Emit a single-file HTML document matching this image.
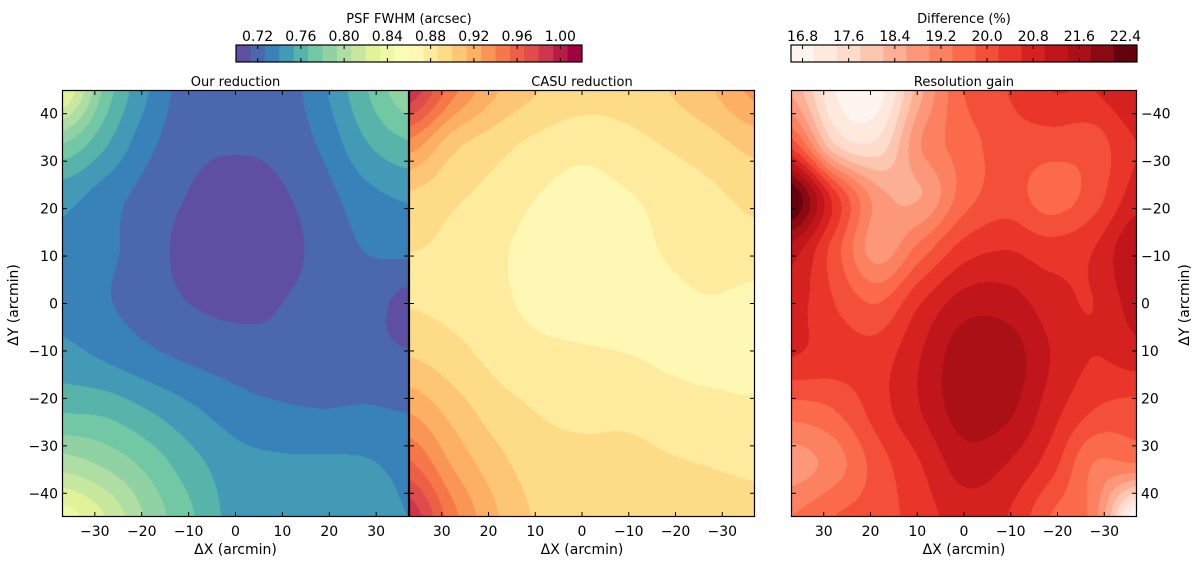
<!DOCTYPE html>
<html><head><meta charset="utf-8"><style>
html,body{margin:0;padding:0;background:#fff;width:1200px;height:565px;overflow:hidden;font-family:"DejaVu Sans","Liberation Sans",sans-serif;}
canvas{position:absolute;}
svg{position:absolute;left:0;top:0;}
</style></head><body>
<canvas id="c1" width="347" height="427" style="left:62px;top:90px"></canvas>
<canvas id="c2" width="346" height="427" style="left:409px;top:90px"></canvas>
<canvas id="c3" width="346" height="427" style="left:791px;top:90px"></canvas>
<svg id="ov" width="1200" height="565"></svg>
<script>
// grid rows: data y = 45 .. -45 (top to bottom), columns in display order (left to right)
const ourGrid = [
[0.835,0.775,0.74,0.718,0.716,0.718,0.737,0.765,0.79],
[0.78,0.755,0.73,0.717,0.715,0.717,0.729,0.752,0.765],
[0.745,0.733,0.721,0.712,0.705,0.711,0.721,0.735,0.742],
[0.738,0.73,0.719,0.708,0.703,0.707,0.718,0.727,0.73],
[0.735,0.728,0.72,0.713,0.710,0.713,0.718,0.72,0.708],
[0.745,0.738,0.73,0.724,0.72,0.716,0.716,0.717,0.715],
[0.765,0.763,0.753,0.742,0.733,0.729,0.727,0.728,0.726],
[0.80,0.79,0.775,0.758,0.745,0.742,0.742,0.741,0.737],
[0.84,0.82,0.79,0.768,0.748,0.745,0.745,0.743,0.740]];
const casuGrid = [
[0.99,0.945,0.915,0.90,0.893,0.893,0.90,0.912,0.93],
[0.935,0.905,0.892,0.883,0.878,0.882,0.888,0.895,0.905],
[0.897,0.889,0.882,0.873,0.868,0.872,0.878,0.884,0.89],
[0.887,0.884,0.876,0.868,0.865,0.868,0.875,0.882,0.882],
[0.886,0.883,0.877,0.869,0.865,0.865,0.869,0.872,0.868],
[0.90,0.892,0.883,0.878,0.876,0.874,0.871,0.868,0.866],
[0.925,0.908,0.893,0.886,0.883,0.883,0.88,0.878,0.876],
[0.955,0.925,0.905,0.893,0.891,0.891,0.888,0.886,0.884],
[0.99,0.945,0.915,0.898,0.895,0.893,0.893,0.893,0.891]];
const gainGrid = [
[18.5,17.0,16.8,18.5,19.8,20.2,20.6,20.6,21.0],
[20.0,17.8,17.5,19.0,19.6,20.0,20.0,20.0,20.6],
[22.6,20.4,18.8,18.6,19.6,20.0,19.6,20.0,20.8],
[21.2,20.0,18.8,19.6,20.4,20.6,20.4,20.6,21.4],
[20.8,20.2,19.8,20.6,21.2,21.2,20.8,20.6,21.2],
[20.6,20.4,20.4,21.0,21.65,21.65,21.0,20.6,20.8],
[19.6,19.8,20.4,21.0,21.6,21.5,20.8,20.2,20.0],
[18.8,19.2,20.0,20.6,21.2,21.0,20.4,19.4,19.4],
[19.4,19.8,20.0,20.4,20.8,20.6,19.8,19.2,16.6]];
const fwhmTicks = [0.72,0.76,0.80,0.84,0.88,0.92,0.96,1.00];
const diffTicks = [16.8,17.6,18.4,19.2,20.0,20.8,21.6,22.4];
const xTicks = [-30,-20,-10,0,10,20,30];
const yTicks = [-40,-30,-20,-10,0,10,20,30,40];
const fwhmRange = [0.70,1.02], fwhmBands = 24;
const diffRange = [16.6,22.6], diffBands = 15;

const spectralR = ['#5e4fa2','#3288bd','#66c2a5','#abdda4','#e6f598','#ffffbf','#fee08b','#fdae61','#f46d43','#d53e4f','#9e0142'];
const reds = ['#fff5f0','#fee0d2','#fcbba1','#fc9272','#fb6a4a','#ef3b2c','#cb181d','#a50f15','#67000d'];
function hex(h){return [parseInt(h.slice(1,3),16),parseInt(h.slice(3,5),16),parseInt(h.slice(5,7),16)];}
function cmap(anchors,t){t=Math.max(0,Math.min(1,t));const n=anchors.length-1;const i=Math.min(n-1,Math.floor(t*n));const f=t*n-i;const a=hex(anchors[i]),b=hex(anchors[i+1]);return [0,1,2].map(k=>Math.round(a[k]+(b[k]-a[k])*f));}
function bandColor(anchors,k,N){return cmap(anchors,k/(N-1));}
function cr(p0,p1,p2,p3,t){return p1+0.5*t*(p2-p0+t*(2*p0-5*p1+4*p2-p3+t*(3*(p1-p2)+p3-p0)));}
function sample(g,u,v){const R=g.length-1,C=g[0].length-1;const x=u*C,y=v*R;const i=Math.min(C-1,Math.floor(x)),j=Math.min(R-1,Math.floor(y));const fx=x-i,fy=y-j;
 const gv=(r,c)=>g[Math.max(0,Math.min(R,r))][Math.max(0,Math.min(C,c))];
 const rows=[];for(let r=-1;r<=2;r++){rows.push(cr(gv(j+r,i-1),gv(j+r,i),gv(j+r,i+1),gv(j+r,i+2),fx));}
 return cr(rows[0],rows[1],rows[2],rows[3],fy);}
function draw(id,g,anchors,range,N){const c=document.getElementById(id),ctx=c.getContext('2d');const W=c.width,H=c.height;const im=ctx.createImageData(W,H);
 const cols=[];for(let k=0;k<N;k++)cols.push(bandColor(anchors,k,N));
 for(let y=0;y<H;y++)for(let x=0;x<W;x++){const v=sample(g,x/(W-1),y/(H-1));let k=Math.floor((v-range[0])/(range[1]-range[0])*N);k=Math.max(0,Math.min(N-1,k));const col=cols[k];const o=(y*W+x)*4;im.data[o]=col[0];im.data[o+1]=col[1];im.data[o+2]=col[2];im.data[o+3]=255;}
 ctx.putImageData(im,0,0);}
draw('c1',ourGrid,spectralR,fwhmRange,fwhmBands);
draw('c2',casuGrid,spectralR,fwhmRange,fwhmBands);
draw('c3',gainGrid,reds,diffRange,diffBands);

const NS='http://www.w3.org/2000/svg';const ov=document.getElementById('ov');
function el(tag,attrs,txt){const e=document.createElementNS(NS,tag);for(const k in attrs)e.setAttribute(k,attrs[k]);if(txt!==undefined)e.textContent=txt;ov.appendChild(e);return e;}
const T=90,B=517;
const yPix=y=>T+(45-y)/90*(B-T);
const panels=[{l:62,r:409,flip:false,name:'our-reduction',title:'Our reduction'},{l:409,r:755,flip:true,name:'casu-reduction',title:'CASU reduction'},{l:791,r:1137,flip:true,name:'resolution-gain',title:'Resolution gain'}];
panels.forEach((p,pi)=>{
 const xPix=x=>p.flip? p.l+(37-x)/74*(p.r-p.l) : p.l+(x+37)/74*(p.r-p.l);
 let e=el('rect',{x:p.l+0.5,y:T+0.5,width:p.r-p.l-1,height:B-T-1,fill:'none',stroke:'#000','stroke-width':1.2});
 
 e=el('text',{x:(p.l+p.r)/2,y:T-4,'text-anchor':'middle','font-size':13},p.title);
 
 xTicks.forEach(t=>{const x=xPix(t);
  el('line',{x1:x,x2:x,y1:B,y2:B-5,stroke:'#000'});el('line',{x1:x,x2:x,y1:T,y2:T+5,stroke:'#000'});
  const lb=el('text',{x:x,y:B+19,'text-anchor':'middle','font-size':14},t<0?'\u2212'+(-t):String(t));
  });
 yTicks.forEach(t=>{const y=yPix(t);
  el('line',{x1:p.l,x2:p.l+5,y1:y,y2:y,stroke:'#000'});el('line',{x1:p.r,x2:p.r-5,y1:y,y2:y,stroke:'#000'});
  if(pi===0){const lb=el('text',{x:p.l-4,y:y+5,'text-anchor':'end','font-size':14},t<0?'\u2212'+(-t):String(t));}
  if(pi===2){const tv=-t;const lb=el('text',{x:p.r+4,y:y+5,'text-anchor':'start','font-size':14},tv<0?'\u2212'+(-tv):String(tv));}
 });
 e=el('text',{x:(p.l+p.r)/2,y:B+37,'text-anchor':'middle','font-size':14},'\u0394X (arcmin)');
 
});
let yl=el('text',{x:0,y:0,'text-anchor':'middle','font-size':14,transform:'translate(18,305) rotate(-90)'},'\u0394Y (arcmin)');

yl=el('text',{x:0,y:0,'text-anchor':'middle','font-size':14,transform:'translate(1189,305) rotate(-90)'},'\u0394Y (arcmin)');


function colorbar(x0,x1,range,N,anchors,ticks,title,name,dec){
 const y0=45,y1=62;
 for(let k=0;k<N;k++){const c=bandColor(anchors,k,N);const a=x0+k/N*(x1-x0),b=x0+(k+1)/N*(x1-x0);
  const r=el('rect',{x:a,y:y0,width:b-a+0.5,height:y1-y0,fill:'rgb('+c.join(',')+')'});
  }
 const f=el('rect',{x:x0,y:y0,width:x1-x0,height:y1-y0,fill:'none',stroke:'#000','stroke-width':1.2});
 
 ticks.forEach(t=>{const x=x0+(t-range[0])/(range[1]-range[0])*(x1-x0);
  el('line',{x1:x,x2:x,y1:y0,y2:y0+4,stroke:'#000'});el('line',{x1:x,x2:x,y1:y1,y2:y1-4,stroke:'#000'});
  const lb=el('text',{x:x,y:y0-4,'text-anchor':'middle','font-size':14},t.toFixed(dec));
  });
 const tt=el('text',{x:(x0+x1)/2,y:y0-22,'text-anchor':'middle','font-size':13},title);
 
}
colorbar(236,582,fwhmRange,fwhmBands,spectralR,fwhmTicks,'PSF FWHM (arcsec)','fwhm-colorbar',2);
colorbar(791,1137,diffRange,diffBands,reds,diffTicks,'Difference (%)','difference-colorbar',1);
</script>
</body></html>
